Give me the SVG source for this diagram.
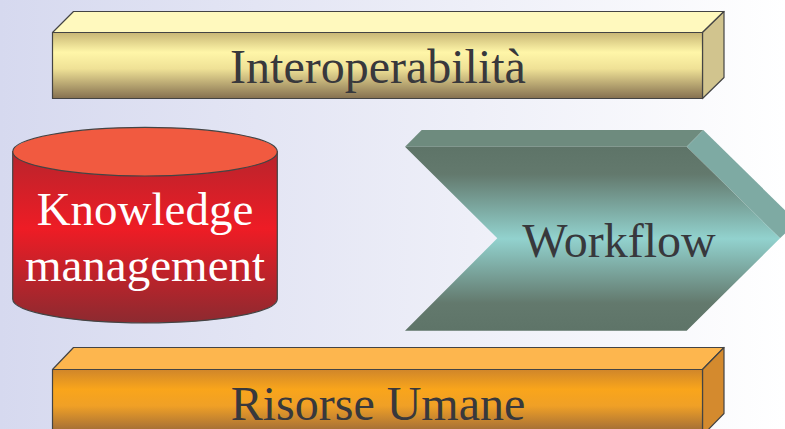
<svg xmlns="http://www.w3.org/2000/svg" width="785" height="429" viewBox="0 0 785 429">
<defs>
<linearGradient id="bg" x1="0" y1="0" x2="1" y2="0">
<stop offset="0" stop-color="#D6D9EF"/>
<stop offset="0.6" stop-color="#EEEFF8"/>
<stop offset="1" stop-color="#FFFFFF"/>
</linearGradient>
<linearGradient id="gYellow" x1="0" y1="0" x2="0" y2="1">
<stop offset="0" stop-color="#C8B675"/>
<stop offset="0.3" stop-color="#FFF6A8"/>
<stop offset="0.55" stop-color="#EFE196"/>
<stop offset="1" stop-color="#857050"/>
</linearGradient>
<linearGradient id="gOrange" x1="0" y1="0" x2="0" y2="1">
<stop offset="0" stop-color="#D0862A"/>
<stop offset="0.3" stop-color="#F9A51B"/>
<stop offset="0.55" stop-color="#F0A026"/>
<stop offset="1" stop-color="#94643A"/>
</linearGradient>
<linearGradient id="gRed" x1="0" y1="0" x2="0" y2="1">
<stop offset="0" stop-color="#B8242C"/>
<stop offset="0.45" stop-color="#EE1C25"/>
<stop offset="1" stop-color="#8C2A30"/>
</linearGradient>
<linearGradient id="gTeal" x1="0" y1="0" x2="0" y2="1">
<stop offset="0" stop-color="#5E7468"/>
<stop offset="0.15" stop-color="#63796D"/>
<stop offset="0.5" stop-color="#92D2CE"/>
<stop offset="0.85" stop-color="#63796D"/>
<stop offset="1" stop-color="#5E7468"/>
</linearGradient>
<style>
.edge{stroke:#444444;stroke-width:1.2;stroke-linejoin:round}
.lbl{font-family:"Liberation Serif","Times New Roman",serif;font-size:48px;text-anchor:middle;fill:#38383C}
.wlbl{font-family:"Liberation Serif","Times New Roman",serif;font-size:47px;text-anchor:middle;fill:#FFFFFF}
</style>
</defs>
<rect x="0" y="0" width="785" height="429" fill="url(#bg)"/>
<g id="interoperabilita">
<polygon class="edge" points="52.5,32.5 73.5,11.5 724,11.5 702.5,32.5" fill="#FFF9BE"/>
<polygon class="edge" points="702.5,32.5 724,11.5 724,77.5 702.5,98.5" fill="#D1C48E"/>
<rect class="edge" x="52.5" y="32.5" width="650" height="66" fill="url(#gYellow)"/>
<text class="lbl" x="378" y="83">Interoperabilità</text>
</g>
<g id="knowledge">
<path class="edge" d="M12.7,151.7 L12.7,299 A132.3,24 0 0 0 277.3,299 L277.3,151.7 Z" fill="url(#gRed)"/>
<ellipse class="edge" cx="145" cy="151.7" rx="132.3" ry="24.3" fill="#F15A40"/>
<text class="wlbl" x="145" y="225">Knowledge</text>
<text class="wlbl" x="145" y="281">management</text>
</g>
<g id="workflow">
<polygon points="405,146.7 421.7,130 703.3,130 686.7,146.7" fill="#6E8B7E"/>
<polygon points="686.7,146.7 703.3,130 797,222 780,238.3" fill="#7EAAA3"/>
<polygon points="405,146.7 686.7,146.7 780,238.3 686.7,330.7 405,330.7 497.3,238.3" fill="url(#gTeal)"/>
<text class="lbl" x="619" y="256.5">Workflow</text>
</g>
<g id="risorse">
<polygon class="edge" points="52.5,369.5 73.5,347.5 724,347.5 702.5,369.5" fill="#FDB64E"/>
<polygon class="edge" points="702.5,369.5 724,347.5 724,413.5 702.5,435.5" fill="#D48A2E"/>
<rect class="edge" x="52.5" y="369.5" width="650" height="66" fill="url(#gOrange)"/>
<text class="lbl" x="378" y="419.5">Risorse Umane</text>
</g>
<g id="connectors"/>
</svg>
